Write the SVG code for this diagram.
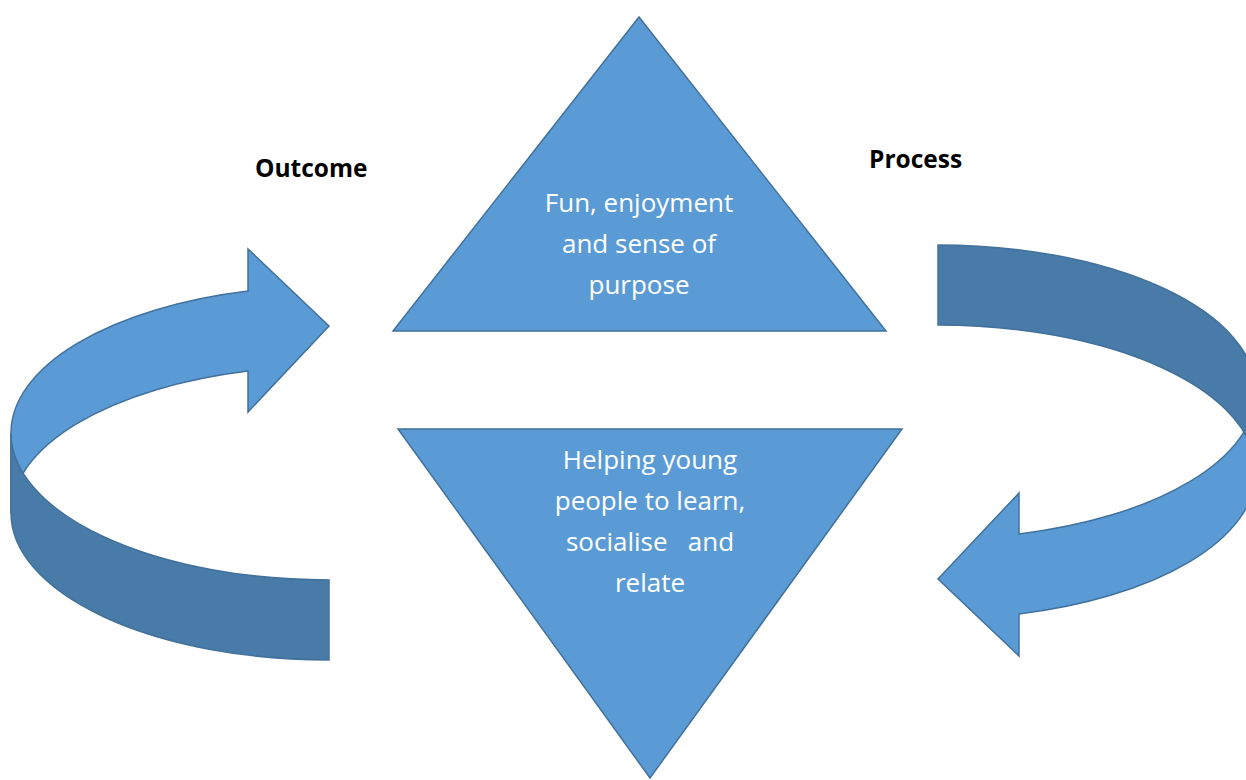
<svg xmlns="http://www.w3.org/2000/svg" width="1246" height="780" viewBox="0 0 1246 780">
<style>
.light{fill:#5B9BD5;stroke:#41719C;stroke-width:1.5;stroke-linejoin:miter}
.dark{fill:#487BA8;stroke:#41719C;stroke-width:1.5}
.lbl{font-family:"Open Sans","Liberation Sans",sans-serif;font-weight:bold;font-size:24.5px;fill:#000}
.body{font-family:"Open Sans","Liberation Sans",sans-serif;font-size:26px;fill:#fff;text-anchor:middle;white-space:pre}
</style>
<rect width="1246" height="780" fill="#fff"/>
<g id="connectors">
  <g id="arrow-left">
    <path class="light" d="M248,291 A318,147 0 0 0 11,433 L11,513 A318,147 0 0 1 248,371 L248,412 L329,326 L248,249 Z"/>
    <path class="dark" d="M11,433 A318,147 0 0 0 329,580 L329,660 A318,147 0 0 1 11,513 Z"/>
  </g>
  <g id="arrow-right" transform="rotate(180 633.5 452.5)">
    <path class="light" d="M248,291 A318,147 0 0 0 11,433 L11,513 A318,147 0 0 1 248,371 L248,412 L329,326 L248,249 Z"/>
    <path class="dark" d="M11,433 A318,147 0 0 0 329,580 L329,660 A318,147 0 0 1 11,513 Z"/>
  </g>
</g>
<g id="node-top">
  <polygon class="light" points="639,17 886,331 393,331"/>
  <text class="body" x="639" y="212">Fun, enjoyment</text>
  <text class="body" x="639" y="253">and sense of</text>
  <text class="body" x="639" y="294">purpose</text>
</g>
<g id="node-bottom">
  <polygon class="light" points="398,429 902,429 650,778"/>
  <text class="body" x="650" y="469">Helping young</text>
  <text class="body" x="650" y="510">people to learn,</text>
  <text class="body" x="650" y="551">socialise   and</text>
  <text class="body" x="650" y="592">relate</text>
</g>
<g id="label-outcome">
  <text class="lbl" x="255" y="177">Outcome</text>
</g>
<g id="label-process">
  <text class="lbl" x="869" y="168">Process</text>
</g>
</svg>
